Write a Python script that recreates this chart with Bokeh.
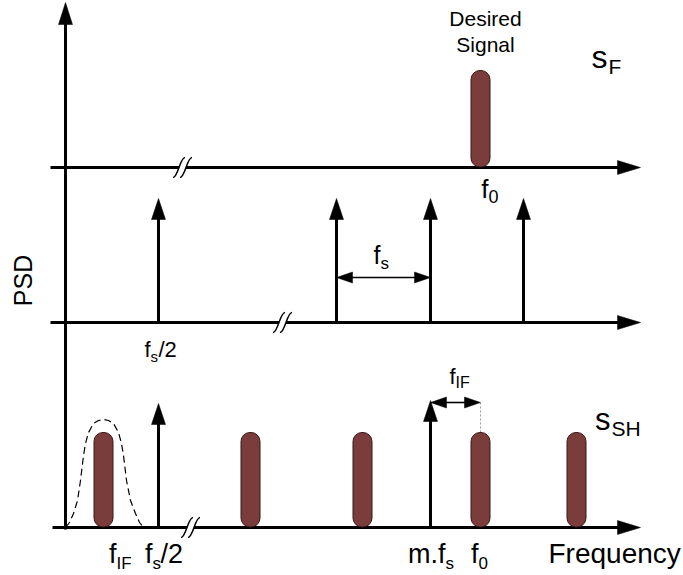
import math
from bokeh.plotting import figure
from bokeh.models import Range1d
from bokeh.core.properties import value
from bokeh.embed import file_html
from bokeh.resources import INLINE

FONT = "Liberation Sans"
INK = "#000000"
PILL_FILL = "#7b3c3c"
PILL_LINE = "#3a1616"
BASELINE_FIX = 0.42   # renderer places the alphabetic baseline ~0.42 em low

# ---- diagram data (diagram units: frequency to the right, y measured downward) ----
AXIS_X = 65
AXIS_TOP = 2
AXIS_BOTTOM = 529
BASE_Y = [167, 322, 527]          # zero line of each panel (s_F, LO, s_SH)
BASE_START = [50, 50, 52]
BASE_END = 640
BREAK_X = [182, 282, 190]         # axis-break marks on each zero line

# panel 1: desired signal s_F
SF_X = [480]
SF_TOP = [70]
# panel 2: sampling impulses
LO_X = [158, 336, 430, 523]
LO_TOP = [198, 198, 198, 198]
# panel 3: sampled spectrum s_SH
SH_X = [103, 250, 362, 480, 576]
SH_TOP = [432, 432, 432, 432, 432]
SHI_X = [158, 430]
SHI_TOP = [403, 400]
# IF filter (dashed) outline
FILT_X = [65, 69, 73, 77, 80, 83, 85, 88, 93, 98, 103,
          108, 113, 118, 121, 123, 126, 130, 135, 139, 143]
FILT_Y = [527, 522, 513, 500, 480, 455, 443, 432, 423, 420, 419,
          420, 423, 432, 443, 455, 480, 500, 513, 522, 527]
# double-headed spacing arrows: (x_start, x_end, y)
SPAN_FS = (336, 430, 277)
SPAN_FIF = (430, 480, 402)

LABELS = [  # text, x, y(baseline), size px, align
    ("Desired", 485, 27, 21, "center"),
    ("Signal", 485, 53, 21, "center"),
    ("s", 607, 70, 32, "right"), ("F", 608, 75, 21, "left"),
    ("f", 488, 199, 26, "right"), ("0", 488, 204, 18, "left"),
    ("f", 150, 358, 22, "right"), ("s", 150, 362, 15, "left"), ("/2", 158, 358, 22, "left"),
    ("f", 380, 265, 25, "right"), ("s", 380, 270, 17, "left"),
    ("f", 455, 385, 22, "right"), ("IF", 455, 389, 16, "left"),
    ("s", 610, 432, 31, "right"), ("SH", 611, 437, 21, "left"),
    ("f", 116, 565, 27, "right"), ("IF", 116, 570, 17, "left"),
    ("f", 152, 565, 27, "right"), ("s", 152, 570, 17, "left"), ("/2", 160, 565, 27, "left"),
    ("m.f", 445, 565, 27, "right"), ("s", 445, 570, 17, "left"),
    ("f", 478, 565, 27, "right"), ("0", 478, 570, 17, "left"),
    ("Frequency", 548, 565, 28, "left"),
]

p = figure(width=683, height=575, x_range=Range1d(0, 683), y_range=Range1d(575, 0),
           output_backend="svg", toolbar_location=None,
           x_axis_type=None, y_axis_type=None, min_border=0)
p.grid.visible = False
p.outline_line_color = None
p.background_fill_color = "white"
p.border_fill_color = "white"

# zero lines
for y0, xs in zip(BASE_Y, BASE_START):
    p.segment(x0=[xs], y0=[y0], x1=[BASE_END - 20], y1=[y0], line_color=INK, line_width=3)
# vertical PSD axis
p.segment(x0=[AXIS_X], y0=[AXIS_TOP + 20], x1=[AXIS_X], y1=[AXIS_BOTTOM],
          line_color=INK, line_width=3)

tri_x, tri_y = [], []
# axis heads
tri_x.append([AXIS_X, AXIS_X - 7, AXIS_X + 7]); tri_y.append([AXIS_TOP, AXIS_TOP + 22, AXIS_TOP + 22])
for y0 in BASE_Y:
    tri_x.append([BASE_END, BASE_END - 23, BASE_END - 23]); tri_y.append([y0, y0 - 7, y0 + 7])

# impulses
imp_x = LO_X + SHI_X
imp_top = LO_TOP + SHI_TOP
imp_base = [BASE_Y[1]] * len(LO_X) + [BASE_Y[2]] * len(SHI_X)
p.segment(x0=imp_x, y0=[t + 15 for t in imp_top], x1=imp_x, y1=imp_base,
          line_color=INK, line_width=3)
for x, t in zip(imp_x, imp_top):
    tri_x.append([x, x - 7, x + 7]); tri_y.append([t, t + 21, t + 21])

# spacing arrows
for (xa, xb, y) in (SPAN_FS, SPAN_FIF):
    p.segment(x0=[xa + 10], y0=[y], x1=[xb - 10], y1=[y], line_color=INK, line_width=1.6)
    tri_x.append([xa, xa + 16, xa + 16]); tri_y.append([y, y - 5.5, y + 5.5])
    tri_x.append([xb, xb - 16, xb - 16]); tri_y.append([y, y - 5.5, y + 5.5])

p.patches(tri_x, tri_y, fill_color=INK, line_color=INK, line_width=0.5)

# dotted guide from f_IF arrow to f0 image
p.segment(x0=[SPAN_FIF[1]], y0=[SPAN_FIF[2]], x1=[SPAN_FIF[1]], y1=[SH_TOP[3]],
          line_color="#9a9a9a", line_width=1, line_dash="2 2")

# axis break marks
for bx, by in zip(BREAK_X, BASE_Y):
    p.quad(left=[bx - 3.5], right=[bx + 3.5], top=[by - 2.5], bottom=[by + 2.5],
           fill_color="white", line_color=None)
    for off in (-3.5, 3.5):
        c = bx + off
        p.bezier(x0=[c - 6], y0=[by + 10], x1=[c + 6], y1=[by - 10],
                 cx0=[c - 1], cy0=[by + 10], cx1=[c + 1], cy1=[by - 10],
                 line_color=INK, line_width=1.5)

# signal "pills"
pill_x = SF_X + SH_X
pill_top = SF_TOP + SH_TOP
pill_base = [BASE_Y[0]] * len(SF_X) + [BASE_Y[2]] * len(SH_X)
p.quad(left=[x - 9.5 for x in pill_x], right=[x + 9.5 for x in pill_x],
       top=pill_top, bottom=[b - 0.5 for b in pill_base],
       fill_color=PILL_FILL, line_color=PILL_LINE, line_width=1, border_radius=9)

# IF filter
p.line(FILT_X, FILT_Y, line_color=INK, line_width=1.2, line_dash="7 4")

# labels
for txt, x, y, size, align in LABELS:
    p.text(x=[x], y=[y - BASELINE_FIX * size], text=[txt], text_font=value(FONT),
           text_font_size=value(f"{size}px"), text_align=align,
           text_baseline="alphabetic", text_color=INK)
p.text(x=[33 - BASELINE_FIX * 25], y=[280], text=["PSD"], angle=math.pi / 2,
       text_font=value(FONT), text_font_size=value("25px"), text_align="center",
       text_baseline="alphabetic", text_color=INK)

open("out.html", "w").write(file_html(p, INLINE))
